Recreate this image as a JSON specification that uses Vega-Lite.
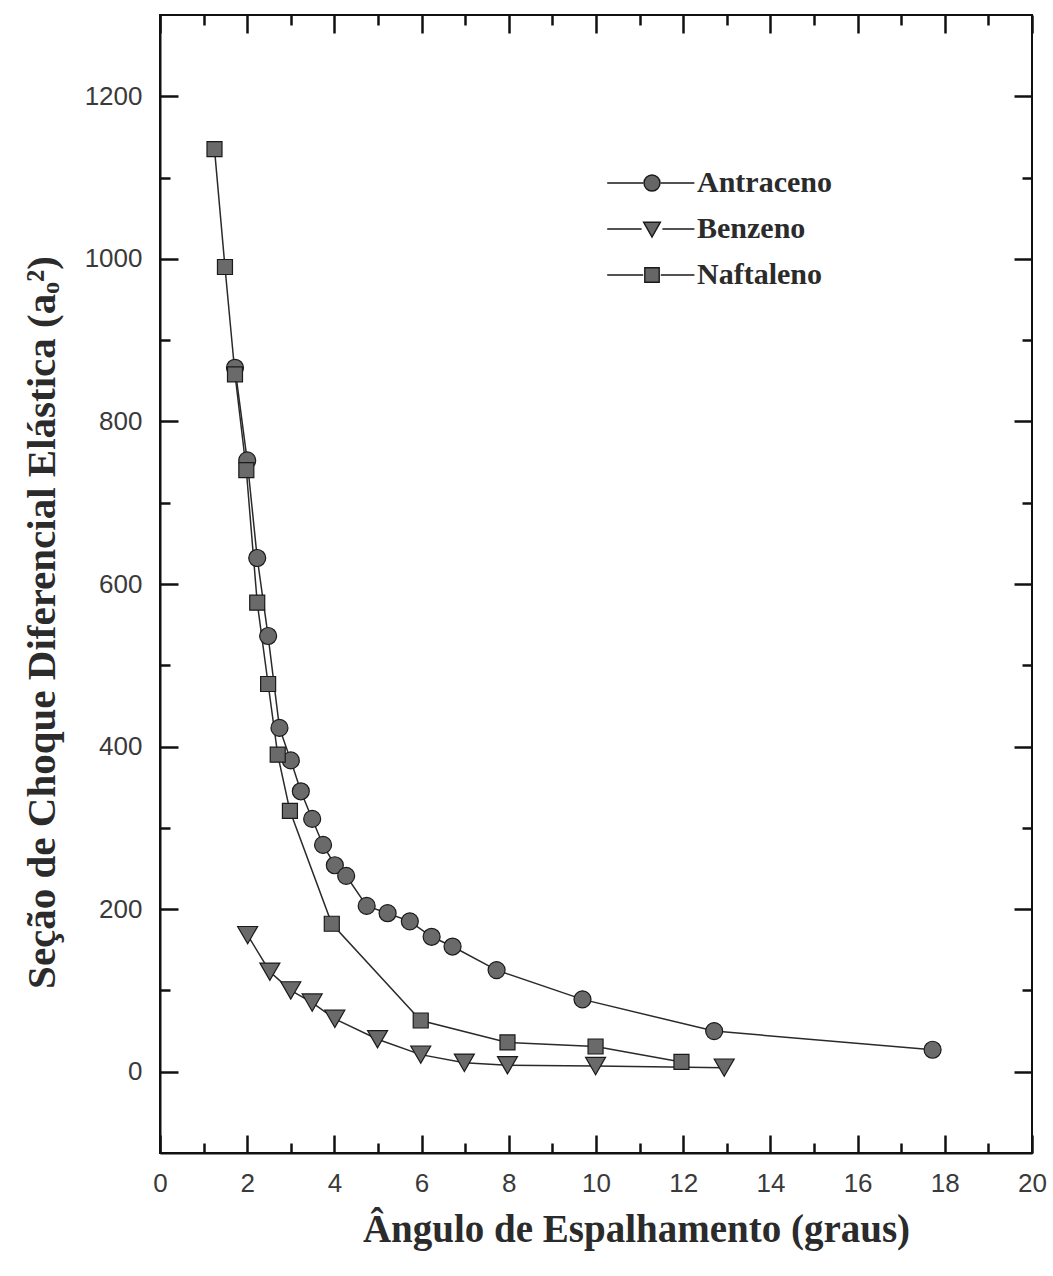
{
  "$schema": "https://vega.github.io/schema/vega-lite/v6.json",
  "width": 872,
  "height": 1138,
  "autosize": "none",
  "padding": {"left": 160, "top": 15, "right": 21, "bottom": 123},
  "background": "white",
  "config": {
    "view": {"stroke": "#111", "strokeWidth": 2},
    "axis": {
      "grid": false,
      "domainColor": "#111",
      "domainWidth": 2,
      "tickColor": "#111",
      "tickWidth": 2.5,
      "labelFont": "Liberation Sans",
      "labelFontSize": 26,
      "labelColor": "#3a3a3a",
      "titleFont": "Liberation Serif",
      "titleFontWeight": "bold",
      "titleColor": "#2b2b2b"
    }
  },
  "data": {
    "values": [
      {"serie": "Antraceno", "angulo": 1.72, "secao": 866},
      {"serie": "Antraceno", "angulo": 2.0, "secao": 752},
      {"serie": "Antraceno", "angulo": 2.23, "secao": 632},
      {"serie": "Antraceno", "angulo": 2.48, "secao": 536},
      {"serie": "Antraceno", "angulo": 2.74, "secao": 423},
      {"serie": "Antraceno", "angulo": 3.0, "secao": 383},
      {"serie": "Antraceno", "angulo": 3.23, "secao": 345},
      {"serie": "Antraceno", "angulo": 3.49, "secao": 311},
      {"serie": "Antraceno", "angulo": 3.74, "secao": 279},
      {"serie": "Antraceno", "angulo": 4.01, "secao": 254},
      {"serie": "Antraceno", "angulo": 4.27, "secao": 241},
      {"serie": "Antraceno", "angulo": 4.74, "secao": 204},
      {"serie": "Antraceno", "angulo": 5.22, "secao": 195},
      {"serie": "Antraceno", "angulo": 5.73, "secao": 185},
      {"serie": "Antraceno", "angulo": 6.23, "secao": 166},
      {"serie": "Antraceno", "angulo": 6.71, "secao": 154},
      {"serie": "Antraceno", "angulo": 7.72, "secao": 125},
      {"serie": "Antraceno", "angulo": 9.69, "secao": 89},
      {"serie": "Antraceno", "angulo": 12.71, "secao": 50},
      {"serie": "Antraceno", "angulo": 17.72, "secao": 27},
      {"serie": "Benzeno", "angulo": 2.01, "secao": 168},
      {"serie": "Benzeno", "angulo": 2.52, "secao": 123},
      {"serie": "Benzeno", "angulo": 3.0, "secao": 100},
      {"serie": "Benzeno", "angulo": 3.49, "secao": 85},
      {"serie": "Benzeno", "angulo": 4.01, "secao": 65},
      {"serie": "Benzeno", "angulo": 4.99, "secao": 40},
      {"serie": "Benzeno", "angulo": 5.98, "secao": 21},
      {"serie": "Benzeno", "angulo": 6.98, "secao": 11},
      {"serie": "Benzeno", "angulo": 7.97, "secao": 8},
      {"serie": "Benzeno", "angulo": 9.99, "secao": 7},
      {"serie": "Benzeno", "angulo": 12.94, "secao": 5},
      {"serie": "Naftaleno", "angulo": 1.25, "secao": 1135},
      {"serie": "Naftaleno", "angulo": 1.49, "secao": 990},
      {"serie": "Naftaleno", "angulo": 1.72, "secao": 858},
      {"serie": "Naftaleno", "angulo": 1.98, "secao": 740},
      {"serie": "Naftaleno", "angulo": 2.23, "secao": 577},
      {"serie": "Naftaleno", "angulo": 2.48, "secao": 477},
      {"serie": "Naftaleno", "angulo": 2.7, "secao": 390},
      {"serie": "Naftaleno", "angulo": 2.98, "secao": 321},
      {"serie": "Naftaleno", "angulo": 3.94, "secao": 182},
      {"serie": "Naftaleno", "angulo": 5.98, "secao": 63},
      {"serie": "Naftaleno", "angulo": 7.97, "secao": 36},
      {"serie": "Naftaleno", "angulo": 9.99, "secao": 31},
      {"serie": "Naftaleno", "angulo": 11.96, "secao": 12}
    ]
  },
  "resolve": {
    "axis": {"x": "independent", "y": "independent"}
  },
  "layer": [
    {
      "mark": {"type": "line", "stroke": "#2a2a2a", "strokeWidth": 1.5},
      "encoding": {
        "x": {
          "field": "angulo", "type": "quantitative",
          "scale": {"domain": [0, 20], "nice": false, "zero": false},
          "axis": {
            "orient": "bottom",
            "values": [0, 2, 4, 6, 8, 10, 12, 14, 16, 18, 20],
            "format": "d",
            "ticks": false,
            "labelPadding": 17,
            "labelFlush": false,
            "title": "Ângulo de Espalhamento (graus)",
            "titleFontSize": 39,
            "titleX": 476,
            "titleY": 88,
            "titleAlign": "center",
            "titleBaseline": "alphabetic",
            "titleAnchor": null
          }
        },
        "y": {
          "field": "secao", "type": "quantitative",
          "scale": {"domain": [-100, 1300], "nice": false, "zero": false},
          "axis": {
            "orient": "left",
            "values": [0, 200, 400, 600, 800, 1000, 1200],
            "format": "d",
            "ticks": false,
            "labelPadding": 18,
            "labelFlush": false,
            "title": "Seção de Choque Diferencial Elástica (aₒ²)",
            "titleFontSize": 41,
            "titleAngle": 270,
            "titleX": -118,
            "titleY": 607,
            "titleAlign": "center",
            "titleBaseline": "middle",
            "titleAnchor": null
          }
        },
        "detail": {"field": "serie"}
      }
    },
    {
      "transform": [{"filter": "datum.serie === 'Antraceno'"}],
      "mark": {"type": "point", "shape": "circle", "size": 289, "filled": true, "fill": "#6a6a6a", "stroke": "#1a1a1a", "strokeWidth": 1.2, "opacity": 1},
      "encoding": {
        "x": {"field": "angulo", "type": "quantitative", "axis": null},
        "y": {"field": "secao", "type": "quantitative", "axis": null}
      }
    },
    {
      "transform": [{"filter": "datum.serie === 'Benzeno'"}],
      "mark": {"type": "point", "shape": "triangle-down", "size": 400, "filled": true, "fill": "#6a6a6a", "stroke": "#1a1a1a", "strokeWidth": 1.2, "opacity": 1},
      "encoding": {
        "x": {"field": "angulo", "type": "quantitative", "axis": null},
        "y": {"field": "secao", "type": "quantitative", "axis": null}
      }
    },
    {
      "transform": [{"filter": "datum.serie === 'Naftaleno'"}],
      "mark": {"type": "point", "shape": "square", "size": 225, "filled": true, "fill": "#6a6a6a", "stroke": "#1a1a1a", "strokeWidth": 1.2, "opacity": 1},
      "encoding": {
        "x": {"field": "angulo", "type": "quantitative", "axis": null},
        "y": {"field": "secao", "type": "quantitative", "axis": null}
      }
    },
    {
      "mark": {"type": "point", "filled": true, "fill": "#666666", "stroke": "#1a1a1a", "strokeWidth": 1.3, "opacity": 0},
      "encoding": {
        "x": {
          "field": "angulo", "type": "quantitative",
          "axis": {"orient": "bottom", "values": [0, 2, 4, 6, 8, 10, 12, 14, 16, 18, 20], "tickSize": 18, "offset": -18, "labels": false, "domain": false, "title": null}
        },
        "y": {
          "field": "secao", "type": "quantitative",
          "axis": {"orient": "left", "values": [0, 200, 400, 600, 800, 1000, 1200], "tickSize": 18, "offset": -18, "labels": false, "domain": false, "title": null}
        },
        "shape": {
          "field": "serie", "type": "nominal",
          "scale": {
            "domain": ["Antraceno", "Benzeno", "Naftaleno"],
            "range": [
              "M-5.6,0H-1.1M1.1,0H5.3M1,0A1,1 0 1,1 -1,0A1,1 0 1,1 1,0Z",
              "M-5.6,0H-1.3M1.3,0H5.3M-1.05,-0.85L1.05,-0.85L0,1Z",
              "M-5.6,0H-1.1M1.1,0H5.3M-0.9,-0.9H0.9V0.9H-0.9Z"
            ]
          },
          "legend": {
            "title": null,
            "orient": "none",
            "legendX": 477,
            "legendY": 153,
            "direction": "vertical",
            "labelFont": "Liberation Serif",
            "labelFontWeight": "bold",
            "labelFontSize": 30,
            "labelColor": "#2b2b2b",
            "labelOffset": 30,
            "rowPadding": 16,
            "symbolSize": 256,
            "symbolFillColor": "#666666",
            "symbolStrokeColor": "#1a1a1a",
            "symbolStrokeWidth": 1.3,
            "symbolOpacity": 1,
            "encoding": {
              "symbols": {
                "fill": {"value": "#666666"},
                "stroke": {"value": "#1a1a1a"},
                "strokeWidth": {"value": 1.4},
                "opacity": {"value": 1}
              }
            }
          }
        }
      }
    },
    {
      "mark": {"type": "point", "opacity": 0},
      "encoding": {
        "x": {
          "field": "angulo", "type": "quantitative",
          "axis": {"orient": "top", "values": [0, 2, 4, 6, 8, 10, 12, 14, 16, 18, 20], "tickSize": 18, "offset": -18, "labels": false, "domain": false, "title": null}
        },
        "y": {
          "field": "secao", "type": "quantitative",
          "axis": {"orient": "right", "values": [0, 200, 400, 600, 800, 1000, 1200], "tickSize": 18, "offset": -18, "labels": false, "domain": false, "title": null}
        }
      }
    },
    {
      "mark": {"type": "point", "opacity": 0},
      "encoding": {
        "x": {
          "field": "angulo", "type": "quantitative",
          "axis": {"orient": "bottom", "values": [1, 3, 5, 7, 9, 11, 13, 15, 17, 19], "tickSize": 10, "offset": -10, "labels": false, "domain": false, "title": null}
        },
        "y": {
          "field": "secao", "type": "quantitative",
          "axis": {"orient": "left", "values": [100, 300, 500, 700, 900, 1100], "tickSize": 10, "offset": -10, "labels": false, "domain": false, "title": null}
        }
      }
    },
    {
      "mark": {"type": "point", "opacity": 0},
      "encoding": {
        "x": {
          "field": "angulo", "type": "quantitative",
          "axis": {"orient": "top", "values": [1, 3, 5, 7, 9, 11, 13, 15, 17, 19], "tickSize": 10, "offset": -10, "labels": false, "domain": false, "title": null}
        },
        "y": {
          "field": "secao", "type": "quantitative",
          "axis": {"orient": "right", "values": [100, 300, 500, 700, 900, 1100], "tickSize": 10, "offset": -10, "labels": false, "domain": false, "title": null}
        }
      }
    }
  ]
}
